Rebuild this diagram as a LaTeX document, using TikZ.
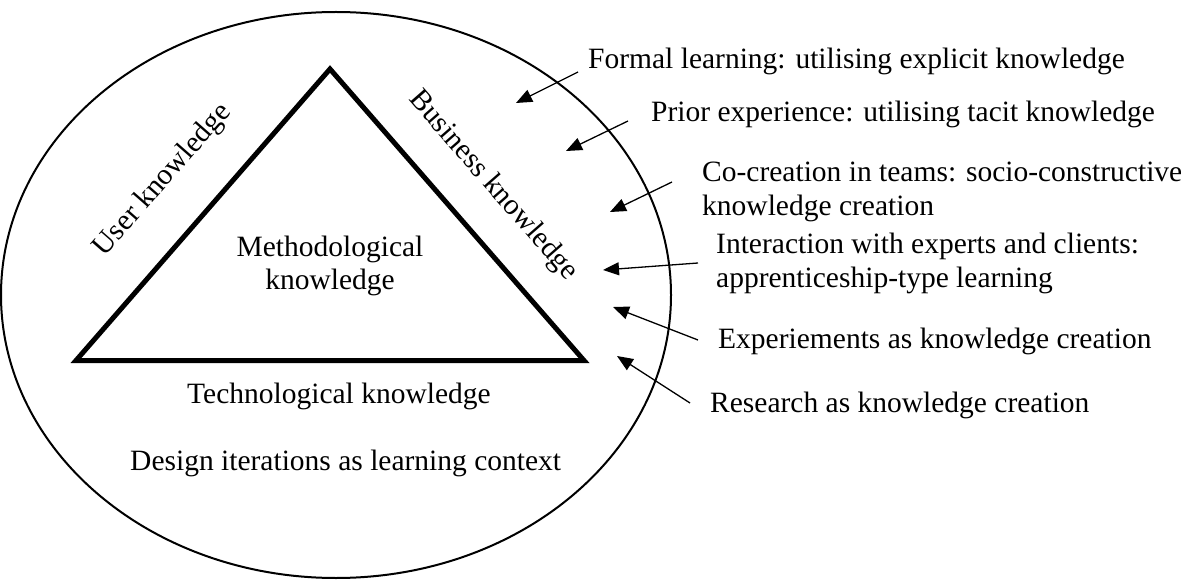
\documentclass[tikz,border=0pt]{standalone}
\usepackage{fontspec}
\setmainfont{Liberation Serif}
\usetikzlibrary{arrows.meta}
\begin{document}
\begin{tikzpicture}[x=1pt,y=-1pt,
  txt/.style={font=\fontsize{29.5}{33.5}\selectfont, inner sep=0pt},
  lbl/.style={txt, anchor=base west},
  lbl2/.style={txt, anchor=north west, align=left},
  inflow/.style={line width=1.3pt, -{Triangle[length=16pt,width=13pt]}},
  context/.style={line width=2pt},
  core/.style={line width=5pt, line join=miter}]
\useasboundingbox (0,0) rectangle (1181,580);
% context ellipse
\draw[context] (336,295) ellipse [x radius=335, y radius=283];
% triangle
\coordinate (apex) at (330,69);
\coordinate (bl) at (76,360.5);
\coordinate (br) at (584,360.5);
\draw[core] (apex) -- (bl) -- (br) -- cycle;
% inner texts
\node[txt, align=center] (meth) at (330,266) {Methodological\\knowledge};
\node[txt, rotate=48.8] (user) at (163,180) {User knowledge};
\node[txt, rotate=-48.8] (bus) at (493,186) {Business knowledge};
\node[lbl] (tech) at (187,403) {Technological knowledge};
\node[lbl] (design) at (130,470) {Design iterations as learning context};
% outer texts
\node[lbl] (formal) at (588,69) {Formal learning: utilising explicit knowledge};
\node[lbl] (prior) at (651,122) {Prior experience: utilising tacit knowledge};
\node[lbl2] (cocr) at (702,162) {Co-creation in teams: socio-constructive\\knowledge creation};
\node[lbl2] (inter) at (716,233) {Interaction with experts and clients:\\apprenticeship-type learning};
\node[lbl] (exper) at (718,348) {Experiements as knowledge creation};
\node[lbl] (res) at (710,412) {Research as knowledge creation};
% arrows
\coordinate (t1) at (578,72);  \coordinate (h1) at (516,103);
\coordinate (t2) at (628,121); \coordinate (h2) at (566,151);
\coordinate (t3) at (672,182); \coordinate (h3) at (610,212);
\coordinate (t4) at (698,263); \coordinate (h4) at (603,270);
\coordinate (t5) at (698,340); \coordinate (h5) at (613,307);
\coordinate (t6) at (690,403); \coordinate (h6) at (617,356);
\foreach \i in {1,...,6} \draw[inflow] (t\i) -- (h\i);
\end{tikzpicture}
\end{document}
